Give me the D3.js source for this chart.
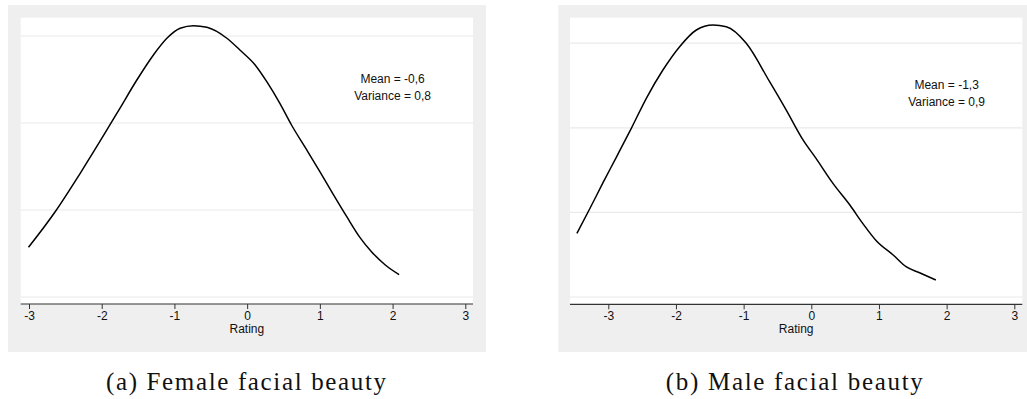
<!DOCTYPE html>
<html>
<head>
<meta charset="utf-8">
<script src="https://cdn.jsdelivr.net/npm/d3@7"></script>
<style>
  html, body { margin: 0; padding: 0; background: #ffffff; }
  svg { display: block; }
</style>
</head>
<body>
<svg id="chart" width="1027" height="399"></svg>
<script>
// Kernel density of ratings, female faces
const femaleRating = [-3.007, -2.640, -2.296, -1.929, -1.750, -1.517, -1.289, -1.104, -0.921, -0.738,
  -0.554, -0.279, -0.10, 0.11, 0.27, 0.45, 0.61, 0.82, 1.00, 1.19,
  1.37, 1.55, 1.71, 1.90, 2.09];
const femaleDensity = [0.1571, 0.1980, 0.2422, 0.2920, 0.3169, 0.3494, 0.3782, 0.3974, 0.4089, 0.4118,
  0.4100, 0.3974, 0.3839, 0.3667, 0.3475, 0.3226, 0.2977, 0.2690, 0.2441, 0.2172,
  0.1923, 0.1686, 0.1521, 0.1368, 0.1257];

// Kernel density of ratings, male faces
const maleRating = [-3.464, -3.276, -3.080, -2.882, -2.660, -2.438, -2.193, -1.946, -1.699, -1.454,
  -1.256, -0.961, -0.616, -0.37, -0.12, 0.07, 0.32, 0.57, 0.76, 0.96,
  1.21, 1.40, 1.60, 1.84];
const maleDensity = [0.1753, 0.2040, 0.2348, 0.2651, 0.2994, 0.3349, 0.3683, 0.3959, 0.4156, 0.4215,
  0.4195, 0.3999, 0.3545, 0.3209, 0.2854, 0.2638, 0.2343, 0.2087, 0.1870, 0.1665,
  0.1496, 0.1358, 0.1287, 0.1201];

const ratingTicks = [-3, -2, -1, 0, 1, 2, 3];
const gridLevels = [0.1, 0.2, 0.3, 0.4];
const axisTitle = "Rating";
const femaleStats = ["Mean = -0,6", "Variance = 0,8"];
const maleStats = ["Mean = -1,3", "Variance = 0,9"];
const statsAnchor = [2, 0.346];
const captions = ["(a) Female facial beauty", "(b) Male facial beauty"];

const svg = d3.select("#chart");
const sansFont = "'Liberation Sans', Arial, Helvetica, sans-serif";
const serifFont = "'Liberation Serif', 'Times New Roman', serif";

const panels = [
  {
    rating: femaleRating, density: femaleDensity, stats: femaleStats, caption: captions[0],
    frame: { x0: 8, x1: 486, y0: 5, y1: 352 },
    plot: { x0: 20.7, x1: 473, y0: 17.7, y1: 304 },
    xRange: [29, 465.3], yRange: [297, 36],
    captionX: 246, captionW: 280
  },
  {
    rating: maleRating, density: maleDensity, stats: maleStats, caption: captions[1],
    frame: { x0: 558.3, x1: 1027, y0: 5, y1: 352 },
    plot: { x0: 570, x1: 1022.3, y0: 17.7, y1: 304.3 },
    xRange: [608.3, 1014.3], yRange: [297, 43.2],
    captionX: 794.3, captionW: 257
  }
];

panels.forEach(p => {
  const g = svg.append("g");
  const x = d3.scaleLinear().domain([-3, 3]).range(p.xRange);
  const y = d3.scaleLinear().domain([0.1, 0.4]).range(p.yRange);

  // outer graph region and plot region
  g.append("rect")
    .attr("x", p.frame.x0).attr("y", p.frame.y0)
    .attr("width", p.frame.x1 - p.frame.x0).attr("height", p.frame.y1 - p.frame.y0)
    .attr("fill", "#efefef");
  g.append("rect")
    .attr("x", p.plot.x0).attr("y", p.plot.y0)
    .attr("width", p.plot.x1 - p.plot.x0).attr("height", p.plot.y1 - p.plot.y0)
    .attr("fill", "#ffffff");

  // horizontal grid lines
  g.selectAll("line.grid").data(gridLevels).enter().append("line")
    .attr("class", "grid")
    .attr("x1", p.plot.x0).attr("x2", p.plot.x1)
    .attr("y1", d => y(d)).attr("y2", d => y(d))
    .attr("stroke", "#eaeaea").attr("stroke-width", 1.2);

  // density curve
  const line = d3.line()
    .x((d, i) => x(p.rating[i]))
    .y(d => y(d))
    .curve(d3.curveMonotoneX);
  g.append("path")
    .datum(p.density)
    .attr("d", line)
    .attr("fill", "none")
    .attr("stroke", "#000000")
    .attr("stroke-width", 1.5)
    .attr("stroke-linejoin", "round");

  // x axis
  const axis = d3.axisBottom(x).tickValues(ratingTicks).tickSize(5).tickPadding(2)
    .tickFormat(d3.format("d"));
  const ax = g.append("g")
    .attr("transform", `translate(0,${p.plot.y1})`)
    .call(axis);
  ax.select(".domain").remove();
  ax.selectAll(".tick line").attr("stroke", "#333333").attr("stroke-width", 1);
  ax.selectAll(".tick text")
    .attr("font-family", sansFont).attr("font-size", 12).attr("fill", "#111111")
    .text(d => d < 0 ? "-" + Math.abs(d) : String(d));
  g.append("line")
    .attr("x1", p.plot.x0).attr("x2", p.plot.x1)
    .attr("y1", p.plot.y1).attr("y2", p.plot.y1)
    .attr("stroke", "#333333").attr("stroke-width", 1.2);

  g.append("text")
    .attr("x", (p.plot.x0 + p.plot.x1) / 2)
    .attr("y", 333)
    .attr("text-anchor", "middle")
    .attr("font-family", sansFont).attr("font-size", 12).attr("fill", "#111111")
    .text(axisTitle);

  // summary statistics
  const st = g.append("text")
    .attr("x", x(statsAnchor[0]))
    .attr("y", y(statsAnchor[1]))
    .attr("text-anchor", "middle")
    .attr("font-family", sansFont).attr("font-size", 12).attr("fill", "#111111");
  p.stats.forEach((s, i) => {
    st.append("tspan")
      .attr("x", x(statsAnchor[0]))
      .attr("dy", i === 0 ? 0 : 16.7)
      .text(s);
  });

  // sub-figure caption
  svg.append("text")
    .attr("x", p.captionX)
    .attr("y", 390)
    .attr("text-anchor", "middle")
    .attr("font-family", serifFont).attr("font-size", 25).attr("fill", "#111111")
    .attr("textLength", p.captionW).attr("lengthAdjust", "spacing")
    .text(p.caption);
});
</script>
</body>
</html>
